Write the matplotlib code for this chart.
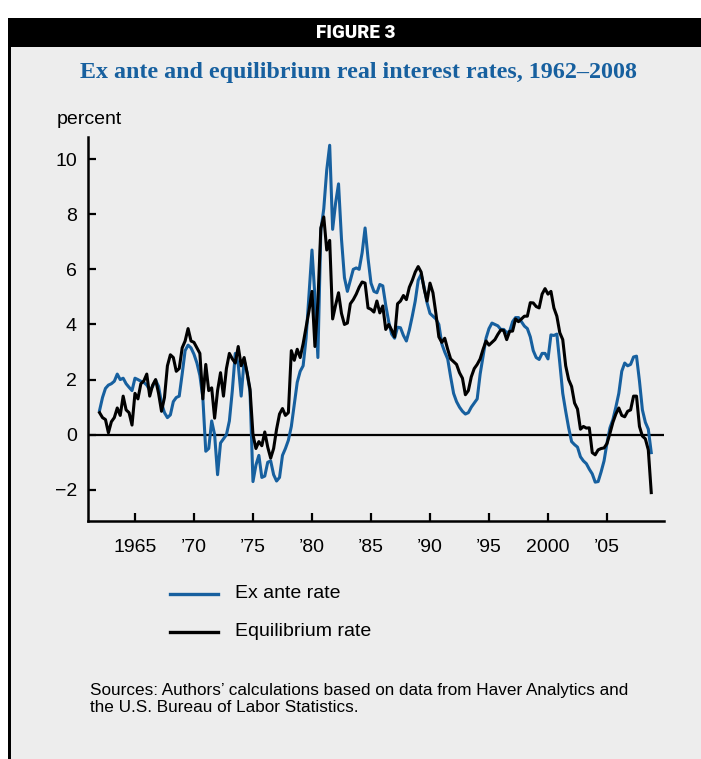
import numpy as np
import matplotlib
matplotlib.use("Agg")
import matplotlib.pyplot as plt
from matplotlib.patches import Rectangle
from matplotlib.lines import Line2D

# ---------------- data (quarterly, 1962Q1 - 2008Q4) ----------------
start_year = 1962
ex_ante = [
    0.88, 1.35, 1.68, 1.80, 1.85, 1.94, 2.20, 2.00, 2.05, 1.85, 1.72, 1.60,
    2.05, 2.00, 1.94, 1.90, 1.80, 1.62, 1.75, 1.98, 1.75, 1.15, 0.80, 0.62,
    0.72, 1.20, 1.35, 1.40, 2.20, 3.05, 3.25, 3.15, 2.92, 2.60, 2.15, 1.35,
    -0.60, -0.50, 0.50, 0.00, -1.45, -0.30, -0.15, 0.00, 0.50, 1.60, 2.95, 2.55,
    1.40, 2.70, 2.25, 1.55, -1.70, -1.10, -0.75, -1.55, -1.50, -1.00, -0.95, -1.45,
    -1.68, -1.55, -0.75, -0.50, -0.20, 0.30, 1.10, 1.90, 2.30, 2.50, 3.50, 5.10,
    6.70, 5.00, 2.80, 7.40, 8.20, 9.60, 10.50, 7.45, 8.40, 9.10, 7.10, 5.70,
    5.20, 5.60, 6.00, 6.05, 6.00, 6.60, 7.50, 6.40, 5.50, 5.20, 5.15, 5.45,
    5.40, 4.70, 4.10, 3.65, 3.50, 3.90, 3.88, 3.60, 3.40, 3.80, 4.30, 4.85,
    5.60, 5.82, 5.35, 4.79, 4.40, 4.30, 4.20, 4.00, 3.30, 3.00, 2.75, 2.10,
    1.50, 1.20, 1.00, 0.85, 0.75, 0.80, 1.00, 1.15, 1.30, 2.20, 2.85, 3.50,
    3.85, 4.05, 4.00, 3.95, 3.82, 3.82, 3.70, 3.75, 4.10, 4.25, 4.25, 4.10,
    3.94, 3.85, 3.55, 3.05, 2.80, 2.73, 2.95, 2.95, 2.75, 3.62, 3.60, 3.65,
    2.60, 1.50, 0.85, 0.25, -0.25, -0.36, -0.45, -0.80, -0.95, -1.05, -1.25, -1.42,
    -1.72, -1.70, -1.35, -0.95, -0.30, 0.25, 0.55, 1.00, 1.50, 2.30, 2.60, 2.50,
    2.55, 2.82, 2.85, 1.95, 0.90, 0.45, 0.20, -0.65,
]
equilibrium = [
    0.80, 0.62, 0.55, 0.07, 0.47, 0.62, 0.97, 0.70, 1.40, 0.90, 0.80, 0.35,
    1.50, 1.30, 1.85, 1.95, 2.20, 1.40, 1.80, 2.00, 1.50, 0.85, 1.35, 2.50,
    2.90, 2.80, 2.30, 2.40, 3.15, 3.40, 3.85, 3.40, 3.35, 3.15, 2.95, 1.30,
    2.55, 1.60, 1.70, 0.60, 1.60, 2.25, 1.40, 2.40, 2.95, 2.75, 2.60, 3.20,
    2.50, 2.80, 2.25, 1.65, 0.00, -0.50, -0.25, -0.40, 0.10, -0.45, -0.85, -0.50,
    0.20, 0.75, 0.95, 0.70, 0.80, 3.05, 2.70, 3.10, 2.80, 3.30, 3.90, 4.50,
    5.20, 3.20, 4.80, 7.50, 7.90, 6.70, 7.05, 4.20, 4.70, 5.15, 4.40, 4.00,
    4.05, 4.75, 4.90, 5.10, 5.35, 5.54, 5.50, 4.60, 4.55, 4.45, 4.85, 4.42,
    4.67, 3.82, 4.00, 3.80, 3.55, 4.75, 4.85, 5.05, 4.90, 5.35, 5.60, 5.90,
    6.10, 5.90, 5.30, 4.85, 5.50, 5.15, 4.40, 3.55, 3.35, 3.50, 3.10, 2.75,
    2.65, 2.55, 2.25, 2.05, 1.45, 1.60, 2.10, 2.40, 2.55, 2.75, 3.10, 3.40,
    3.25, 3.35, 3.45, 3.64, 3.80, 3.78, 3.45, 3.75, 3.76, 4.20, 4.10, 4.20,
    4.30, 4.30, 4.79, 4.78, 4.65, 4.60, 5.10, 5.30, 5.10, 5.20, 4.60, 4.30,
    3.70, 3.45, 2.50, 2.00, 1.75, 1.15, 0.93, 0.20, 0.30, 0.24, 0.25, -0.65,
    -0.73, -0.55, -0.50, -0.48, -0.32, 0.05, 0.45, 0.75, 0.97, 0.70, 0.65, 0.85,
    0.90, 1.40, 1.40, 0.30, -0.05, -0.15, -0.55, -2.10,
]
years = start_year + np.arange(len(ex_ante)) / 4.0

x_ticks = [1965, 1970, 1975, 1980, 1985, 1990, 1995, 2000, 2005]
x_tick_labels = ["1965", "\u201970", "\u201975", "\u201980", "\u201985",
                 "\u201990", "\u201995", "2000", "\u201905"]
y_ticks = [-2, 0, 2, 4, 6, 8, 10]
y_tick_labels = ["\u22122", "0", "2", "4", "6", "8", "10"]
series_labels = ["Ex ante rate", "Equilibrium rate"]

# ---------------- styling ----------------
W, H = 701, 759
BLUE = "#17609f"
BG = "#ededed"
SANS = ["Liberation Sans", "DejaVu Sans"]
plt.rcParams["font.family"] = SANS

fig = plt.figure(figsize=(W / 100, H / 100), dpi=100, facecolor="white")

def fx(px):
    return px / W

def fy(py):
    return 1 - py / H

# gray panel
fig.patches.append(Rectangle((fx(9), 0), 1 - fx(9), fy(47), transform=fig.transFigure,
                             facecolor=BG, edgecolor="none", zorder=-10))
# header band
fig.patches.append(Rectangle((fx(8), fy(47)), 1 - fx(8), fy(18) - fy(47),
                             transform=fig.transFigure, facecolor="black",
                             edgecolor="none", zorder=-9))
# left border
fig.patches.append(Rectangle((fx(8), 0), fx(2.5), fy(18), transform=fig.transFigure,
                             facecolor="black", edgecolor="none", zorder=-9))

fig.text(fx(356), fy(32.5), "FIGURE 3", color="white", fontsize=13.5,
         fontweight="black", family=["Roboto", "DejaVu Sans"],
         ha="center", va="center")
fig.text(fx(358), fy(72.5), "Ex ante and equilibrium real interest rates, 1962\u20132008",
         color=BLUE, fontsize=17.3, fontweight="bold",
         family=["Liberation Serif", "DejaVu Serif"], ha="center", va="center")

ax = fig.add_axes([fx(88), fy(521), fx(664) - fx(88), fy(137) - fy(521)], zorder=5)
ax.set_facecolor("none")
ax.set_xlim(1961.02, 2009.83)
ax.set_ylim(-3.13, 10.8)

ax.axhline(0, color="black", lw=1.6, zorder=2)
ax.plot(years, ex_ante, color=BLUE, lw=2.2, zorder=3, solid_joinstyle="round")
ax.plot(years, equilibrium, color="black", lw=2.2, zorder=4, solid_joinstyle="round")

for s in ["top", "right"]:
    ax.spines[s].set_visible(False)
for s in ["left", "bottom"]:
    ax.spines[s].set_linewidth(1.8)

ax.set_xticks(x_ticks)
ax.set_xticklabels(x_tick_labels)
ax.set_yticks(y_ticks)
ax.set_yticklabels(y_tick_labels)
ax.tick_params(axis="both", direction="in", length=6, width=1.6, labelsize=14,
               colors="black")
ax.tick_params(axis="x", pad=13)
ax.tick_params(axis="y", pad=8)

fig.text(fx(57), fy(119), "percent", fontsize=14, ha="left", va="center")

# legend (manual)
for i, (lab, col) in enumerate(zip(series_labels, [BLUE, "black"])):
    yy = 594 + i * 38
    fig.add_artist(Line2D([fx(170), fx(218)], [fy(yy), fy(yy)], color=col, lw=2.4,
                          transform=fig.transFigure))
    fig.text(fx(235), fy(yy), lab, fontsize=14, ha="left", va="center")

fig.text(fx(90), fy(699), "Sources: Authors\u2019 calculations based on data from Haver Analytics and\n"
         "the U.S. Bureau of Labor Statistics.", fontsize=12.3, ha="left", va="center",
         linespacing=1.25)

fig.savefig("out.png", dpi=100, facecolor="white")
